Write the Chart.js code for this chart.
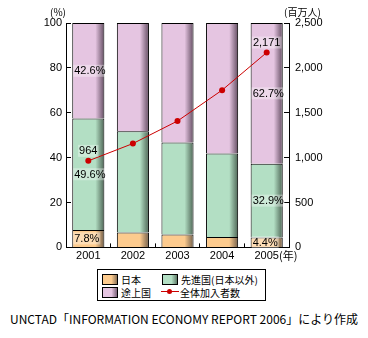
<!DOCTYPE html>
<html lang="ja">
<head>
<meta charset="utf-8">
<script src="https://cdn.jsdelivr.net/npm/chart.js@4.4.1/dist/chart.umd.min.js"></script>
<style>
  body { margin: 0; background: #fff; }
  #wrap { position: relative; width: 368px; height: 338px; }
  #c { position: absolute; left: 0; top: 0; }
  .legend { position: absolute; left: 97px; top: 269px; width: 169px; height: 32px; border: 1px solid #000; box-sizing: border-box; font: 10px "Noto Sans CJK JP", sans-serif; color: #000; }
  .item { position: absolute; display: flex; align-items: center; height: 12px; }
  .sw { width: 14px; height: 9px; border: 1px solid #000; margin-right: 3px; }
  .ln { width: 18px; height: 12px; position: relative; margin-right: 1px; }
  .ln::before { content: ""; position: absolute; left: 0; right: 0; top: 5px; height: 1px; background: #cc0000; }
  .ln::after { content: ""; position: absolute; left: 6px; top: 3px; width: 5px; height: 5px; border-radius: 50%; background: #cc0000; }
  .src { position: absolute; left: 0; width: 368px; top: 310px; text-align: center; font: 12px "Noto Sans CJK JP", sans-serif; color: #000; white-space: nowrap; }
</style>
</head>
<body>
<div id="wrap">
  <canvas id="c" width="368" height="265"></canvas>
  <div class="legend">
    <div class="item" style="left:4px;top:3px"><span class="sw" id="sw0"></span>日本</div>
    <div class="item" style="left:64px;top:3px"><span class="sw" id="sw1"></span>先進国(日本以外)</div>
    <div class="item" style="left:4px;top:16px"><span class="sw" id="sw2"></span>途上国</div>
    <div class="item" style="left:63px;top:16px"><span class="ln"></span>全体加入者数</div>
  </div>
  <div class="src">UNCTAD「INFORMATION ECONOMY REPORT 2006」により作成</div>
</div>
<script>
// 携帯電話加入者の地域別構成比と全体加入者数
const years = ["2001", "2002", "2003", "2004", "2005"];
const japan = [7.8, 6.6, 5.8, 4.6, 4.4];
const developed = [49.6, 45.2, 41.0, 37.2, 32.9];
const developing = [42.6, 48.2, 53.2, 58.2, 62.7];
const subscribers = [964, 1157, 1408, 1752, 2171];
const labelIdx = [0, 4]; // 数値を表示する年

const colors = ["#fdcb8e", "#b3dfc4", "#e5c5e1"];
const darks = ["#8a7257", "#5f7a68", "#7a6278"];

["sw0", "sw1", "sw2"].forEach((id, i) => {
  document.getElementById(id).style.background =
    `linear-gradient(to right, ${colors[i]} 0%, ${colors[i]} 60%, ${darks[i]} 100%)`;
});

function barFill(i) {
  return (ctx) => {
    const chart = ctx.chart;
    const sx = chart.scales.x;
    if (!chart.chartArea || !sx) return colors[i];
    const w = (sx.width / years.length) * 0.72;
    const x = sx.getPixelForValue(ctx.dataIndex);
    const g = chart.ctx.createLinearGradient(x - w / 2, 0, x + w / 2, 0);
    g.addColorStop(0, colors[i]);
    g.addColorStop(0.72, colors[i]);
    g.addColorStop(0.95, darks[i]);
    g.addColorStop(1, darks[i]);
    return g;
  };
}

const numFont = "11px 'Liberation Sans', Arial, sans-serif";
const jpFont = "10px 'Noto Sans CJK JP', sans-serif";

const labelPlugin = {
  id: "valueLabels",
  afterDatasetsDraw(chart) {
    const { ctx, chartArea } = chart;
    ctx.save();
    ctx.font = numFont;
    ctx.textBaseline = "middle";
    ctx.fillStyle = "#000";
    [japan, developed, developing].forEach((arr, k) => {
      const meta = chart.getDatasetMeta(k);
      labelIdx.forEach((i) => {
        const b = meta.data[i];
        const txt = arr[i].toFixed(1) + "%";
        const cy = (b.y + b.base) / 2;
        const left = b.x - b.width / 2 + 1;
        const tw = ctx.measureText(txt).width;
        ctx.fillStyle = "rgba(255,255,255,0.35)";
        ctx.fillRect(left, cy - 6, tw + 2, 12);
        ctx.fillStyle = "#000";
        ctx.textAlign = "left";
        ctx.fillText(txt, left + 1, cy + 0.5);
      });
    });
    const lm = chart.getDatasetMeta(3);
    labelIdx.forEach((i) => {
      const p = lm.data[i];
      const txt = subscribers[i].toLocaleString("en-US");
      const tw = ctx.measureText(txt).width;
      ctx.fillStyle = "rgba(255,255,255,0.35)";
      ctx.fillRect(p.x - tw / 2 - 1, p.y - 16, tw + 2, 12);
      ctx.fillStyle = "#000";
      ctx.textAlign = "center";
      ctx.fillText(txt, p.x, p.y - 10);
    });
    // 軸の単位
    ctx.font = jpFont;
    ctx.textAlign = "right";
    ctx.fillText("(%)", chartArea.left, 12);
    ctx.textAlign = "left";
    ctx.fillText("(百万人)", chartArea.right - 5, 12);
    const sx = chart.scales.x;
    ctx.font = numFont;
    const last = years.length - 1;
    const xl = sx.getPixelForValue(last) + ctx.measureText(years[last]).width / 2;
    ctx.font = "11px 'Noto Sans CJK JP', sans-serif";
    ctx.fillText("(年)", xl, sx.top + 8.5);
    ctx.restore();
  },
};

const axisCommon = {
  border: { display: true, color: "#000", width: 1 },
  grid: { drawOnChartArea: false, color: "#000", tickLength: -5 },
};

new Chart(document.getElementById("c"), {
  type: "bar",
  data: {
    labels: years,
    datasets: [
      { label: "日本", data: japan, backgroundColor: barFill(0), order: 1 },
      { label: "先進国(日本以外)", data: developed, backgroundColor: barFill(1), order: 1 },
      { label: "途上国", data: developing, backgroundColor: barFill(2), order: 1 },
      {
        type: "line",
        label: "全体加入者数",
        data: subscribers,
        yAxisID: "y2",
        borderColor: "#cc0000",
        backgroundColor: "#cc0000",
        borderWidth: 1,
        pointRadius: 3,
        pointBorderWidth: 0,
        tension: 0,
        order: 0,
      },
    ],
  },
  options: {
    responsive: false,
    animation: false,
    layout: { padding: { top: 23, left: 0, right: 0, bottom: 0 } },
    datasets: {
      bar: { borderColor: "#000", borderWidth: 1, barPercentage: 0.72, categoryPercentage: 1 },
    },
    plugins: { legend: { display: false }, tooltip: { enabled: false } },
    scales: {
      x: {
        stacked: true,
        border: { display: true, color: "#000", width: 1 },
        grid: { drawOnChartArea: false, color: "#000", tickLength: -4, offset: true },
        ticks: { color: "#000", font: { family: "'Liberation Sans', Arial, sans-serif", size: 11 }, padding: 6, maxRotation: 0 },
        afterFit: (s) => { s.height = 15; },
      },
      y: {
        stacked: true,
        min: 0,
        max: 100,
        ...axisCommon,
        ticks: { stepSize: 20, color: "#000", font: { family: "'Liberation Sans', Arial, sans-serif", size: 11 }, padding: 9 },
        afterFit: (s) => { s.width = 66; },
      },
      y2: {
        position: "right",
        stacked: false,
        min: 0,
        max: 2500,
        ...axisCommon,
        ticks: {
          stepSize: 500,
          color: "#000",
          font: { family: "'Liberation Sans', Arial, sans-serif", size: 11 },
          padding: 11,
          callback: (v) => v.toLocaleString("en-US"),
        },
        afterFit: (s) => { s.width = 79; },
      },
    },
  },
  plugins: [labelPlugin],
});
</script>
</body>
</html>
